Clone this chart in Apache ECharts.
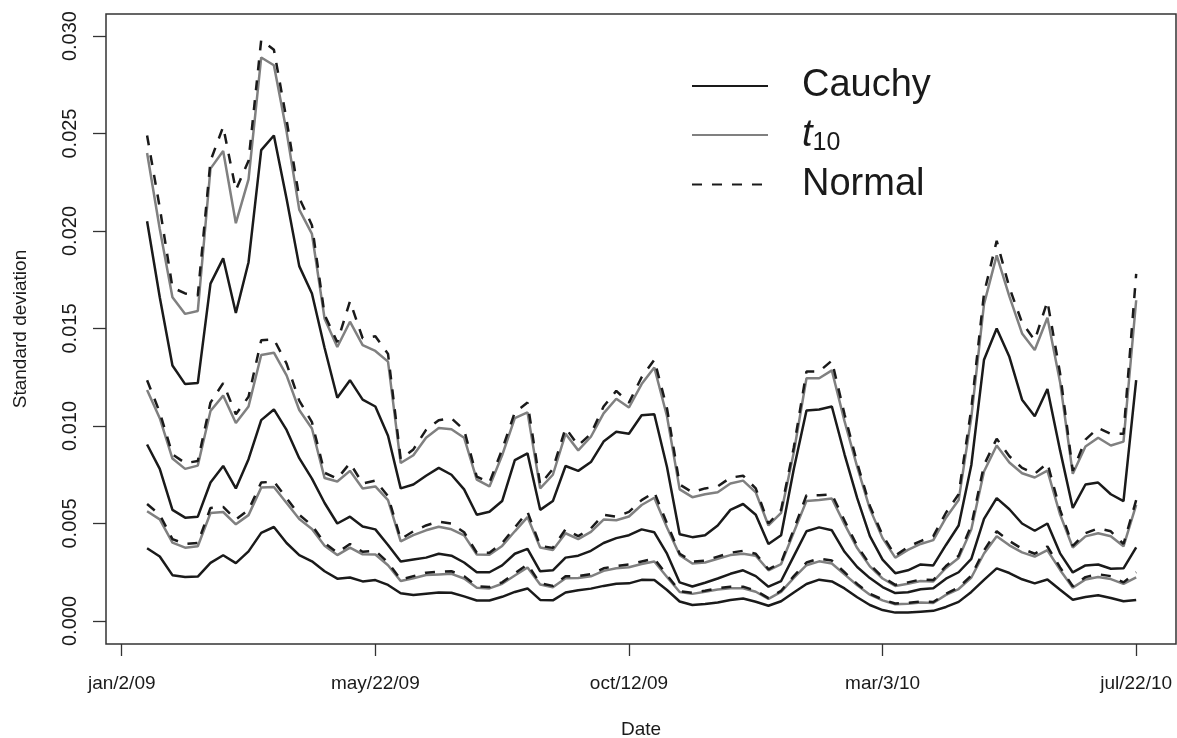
<!DOCTYPE html>
<html>
<head>
<meta charset="utf-8">
<title>Standard deviation</title>
<script src="https://cdn.jsdelivr.net/npm/echarts@6.0.0/dist/echarts.min.js"></script>
<style>
  html, body { margin: 0; padding: 0; background: #fff; }
  #chart { width: 1177px; height: 738px; }
</style>
</head>
<body>
<div id="chart"></div>
<script>
// date axis: ticks every 100 index units
const tickIndex = [0, 100, 200, 300, 400]
const tickLabels = ['jan/2/09', 'may/22/09', 'oct/12/09', 'mar/3/10', 'jul/22/10']
const yTicks = [0, 0.005, 0.01, 0.015, 0.02, 0.025, 0.03]

// curves are sampled at index 10, 15, 20, ... 400
const firstIndex = 10
const step = 5

// values, in units of 0.001
const cauchyHigh = [
  20.5, 16.6, 13.1, 12.15, 12.2, 17.3, 18.6, 15.8, 18.4, 24.15,
  24.9, 21.65, 18.2, 16.8, 14.0, 11.45, 12.35, 11.35, 11.0, 9.5,
  6.8, 7.0, 7.45, 7.85, 7.5, 6.75, 5.45, 5.6, 6.15, 8.25,
  8.6, 5.7, 6.15, 7.95, 7.7, 8.15, 9.2, 9.7, 9.6, 10.55,
  10.6, 7.9, 4.45, 4.3, 4.4, 4.9, 5.7, 6.0, 5.45, 3.95,
  4.4, 7.8, 10.8, 10.85, 11.0, 8.55, 6.3, 4.35, 3.15, 2.45,
  2.6, 2.9, 2.85, 3.9, 4.9, 8.0, 13.4, 15.0, 13.55, 11.35,
  10.5, 11.9, 8.75, 5.8, 7.0, 7.1, 6.5, 6.15, 12.35
]
const t10High = [
  24.0, 20.1, 16.6, 15.75, 15.9, 23.2, 24.1, 20.4, 22.65, 28.9,
  28.5, 25.1, 21.1, 19.85, 15.5, 14.05, 15.35, 14.15, 13.85, 13.3,
  8.1, 8.5, 9.4, 9.9, 9.83, 9.4, 7.25, 6.9, 8.5, 10.4,
  10.7, 6.8, 7.5, 9.6, 8.75, 9.45, 10.65, 11.4, 10.95, 12.15,
  13.0, 10.5, 6.75, 6.35, 6.5, 6.6, 7.05, 7.2, 6.6, 4.9,
  5.55, 8.65, 12.45, 12.45, 12.85, 10.25, 7.9, 5.75, 4.25, 3.25,
  3.65, 3.95, 4.15, 5.3, 6.2, 10.45, 16.25, 18.75, 16.65, 14.75,
  13.9, 15.55, 12.25, 7.55, 8.95, 9.4, 9.0, 9.2, 16.45
]
const normalHigh = [
  24.9, 21.2, 17.1, 16.8, 16.7, 23.6, 25.35, 22.1, 23.6, 29.8,
  29.3, 25.7, 21.7, 20.3, 15.7, 14.3, 16.4, 14.5, 14.6, 13.7,
  8.3, 8.8, 9.8, 10.3, 10.4, 9.8, 7.4, 7.1, 8.8, 10.7,
  11.2, 7.0, 7.8, 9.9, 9.0, 9.6, 11.0, 11.8, 11.2, 12.5,
  13.4, 10.9, 7.0, 6.6, 6.8, 6.9, 7.35, 7.45, 6.8, 5.0,
  5.7, 8.9, 12.8, 12.8, 13.35, 10.6, 8.1, 5.9, 4.4, 3.35,
  3.8, 4.1, 4.35, 5.55, 6.5, 10.9, 16.8, 19.5, 17.1, 15.3,
  14.4, 16.4, 12.7, 7.7, 9.3, 9.9, 9.6, 9.6, 17.8
]
const cauchyMid = [
  9.05, 7.8, 5.7, 5.3, 5.35, 7.1, 7.95, 6.8, 8.3, 10.3,
  10.85, 9.8, 8.35, 7.3, 6.05, 5.0, 5.35, 4.85, 4.7, 3.9,
  3.05, 3.15, 3.25, 3.45, 3.35, 3.0, 2.5, 2.5, 2.85, 3.45,
  3.7, 2.55, 2.6, 3.25, 3.35, 3.6, 4.0, 4.25, 4.4, 4.7,
  4.55, 3.45, 1.98, 1.77, 1.96, 2.18, 2.42, 2.6, 2.3, 1.76,
  2.05, 3.33, 4.6, 4.8, 4.65, 3.55, 2.77, 2.2, 1.74, 1.43,
  1.47, 1.63, 1.68, 2.17, 2.5, 3.18, 5.24, 6.3, 5.73, 5.0,
  4.63, 5.0, 3.47, 2.49, 2.85, 2.9, 2.68, 2.7, 3.78
]
const t10Mid = [
  11.85, 10.4, 8.33, 7.8, 7.97, 10.77, 11.56, 10.15, 11.0, 13.64,
  13.76, 12.6, 10.82, 9.87, 7.33, 7.15, 7.7, 6.8, 6.9, 6.2,
  4.08, 4.4, 4.65, 4.83, 4.7, 4.39, 3.41, 3.4, 3.85, 4.6,
  5.33, 3.77, 3.64, 4.5, 4.2, 4.57, 5.2, 5.17, 5.36, 5.95,
  6.32, 4.8, 3.38, 2.95, 3.0, 3.19, 3.38, 3.45, 3.35, 2.6,
  2.92, 4.55, 6.16, 6.2, 6.28, 4.97, 3.74, 2.8, 2.18, 1.8,
  1.91, 2.05, 2.03, 2.72, 3.23, 4.7, 7.67, 9.0, 8.13, 7.58,
  7.36, 7.71, 5.46, 3.77, 4.34, 4.5, 4.35, 3.83, 5.95
]
const normalMid = [
  12.35, 10.7, 8.55, 8.1, 8.2, 11.2, 12.2, 10.6, 11.5, 14.4,
  14.45, 13.2, 11.3, 10.2, 7.6, 7.3, 8.1, 7.05, 7.2, 6.4,
  4.2, 4.6, 4.9, 5.1, 5.0, 4.55, 3.5, 3.5, 4.0, 4.8,
  5.6, 3.85, 3.75, 4.7, 4.35, 4.75, 5.45, 5.35, 5.6, 6.2,
  6.6, 5.0, 3.45, 3.05, 3.1, 3.3, 3.5, 3.6, 3.45, 2.65,
  3.0, 4.7, 6.45, 6.45, 6.5, 5.15, 3.85, 2.9, 2.25, 1.85,
  1.98, 2.13, 2.1, 2.82, 3.35, 4.9, 8.0, 9.35, 8.45, 7.85,
  7.55, 8.1, 5.7, 3.85, 4.5, 4.75, 4.6, 3.95, 6.2
]
const cauchyLow = [
  3.73, 3.31, 2.35, 2.26, 2.28, 2.98, 3.37, 2.97, 3.57, 4.52,
  4.82, 4.0, 3.38, 3.06, 2.55, 2.17, 2.23, 2.03, 2.1, 1.85,
  1.42, 1.33, 1.4, 1.46, 1.45, 1.26, 1.05, 1.05, 1.24, 1.49,
  1.67, 1.08, 1.06, 1.46, 1.58, 1.66, 1.8, 1.91, 1.93, 2.11,
  2.1, 1.59, 1.0, 0.82, 0.87, 0.95, 1.08, 1.15, 0.99, 0.78,
  1.01, 1.46, 1.9, 2.12, 2.03, 1.67, 1.22, 0.82, 0.56, 0.43,
  0.44, 0.48, 0.52, 0.72, 0.98, 1.49, 2.11, 2.7, 2.46, 2.14,
  1.93, 2.13, 1.6, 1.09, 1.23, 1.32, 1.18, 1.01, 1.08
]
const t10Low = [
  5.63, 5.21, 4.02, 3.76, 3.83, 5.54, 5.59, 4.96, 5.43, 6.84,
  6.87, 6.05, 5.23, 4.72, 3.86, 3.38, 3.76, 3.42, 3.41, 2.86,
  2.05, 2.19, 2.36, 2.39, 2.42, 2.18, 1.7, 1.67, 1.91, 2.33,
  2.74, 1.87, 1.73, 2.19, 2.2, 2.29, 2.57, 2.7, 2.76, 2.92,
  3.05, 2.26, 1.49, 1.39, 1.5, 1.62, 1.68, 1.68, 1.5, 1.13,
  1.49, 2.21, 2.86, 3.06, 2.95, 2.39, 1.83, 1.35, 1.06, 0.86,
  0.89, 0.95, 0.92, 1.34, 1.64, 2.23, 3.46, 4.35, 3.88, 3.52,
  3.3, 3.63, 2.62, 1.71, 2.13, 2.26, 2.15, 1.9, 2.24
]
const normalLow = [
  6.0, 5.45, 4.2, 3.95, 4.0, 5.8, 5.85, 5.2, 5.7, 7.1,
  7.15, 6.3, 5.45, 4.9, 4.0, 3.5, 3.95, 3.55, 3.6, 3.0,
  2.12, 2.3, 2.48, 2.52, 2.55, 2.3, 1.78, 1.74, 1.98, 2.45,
  2.9, 1.93, 1.8, 2.3, 2.3, 2.4, 2.7, 2.82, 2.9, 3.05,
  3.2, 2.35, 1.53, 1.44, 1.55, 1.68, 1.76, 1.76, 1.56, 1.17,
  1.55, 2.3, 3.0, 3.2, 3.1, 2.5, 1.9, 1.4, 1.1, 0.9,
  0.93, 1.0, 0.97, 1.4, 1.72, 2.33, 3.62, 4.6, 4.1, 3.7,
  3.45, 3.82, 2.75, 1.78, 2.25, 2.4, 2.3, 1.98, 2.5
]

const font = '"Liberation Sans", Arial, Helvetica, sans-serif'
const ink = '#1a1a1a'

const styles = {
  Cauchy: { color: ink, width: 2.5, type: 'solid' },
  t10: { color: '#808080', width: 2.5, type: 'solid' },
  Normal: { color: ink, width: 2.5, type: [10, 10] }
}

const toPoints = (values) => values.map((v, i) => [firstIndex + step * i, v / 1000])

const makeSeries = (name, values) => ({
  name: name,
  type: 'line',
  data: toPoints(values),
  symbol: 'none',
  showSymbol: false,
  silent: true,
  lineStyle: styles[name],
  itemStyle: { color: styles[name].color }
})

const createChart = () => {
  var chartDom = document.getElementById('chart')
  var myChart = echarts.init(chartDom)
  var option

  option = {
    animation: false,
    backgroundColor: '#fff',
    textStyle: { fontFamily: font },
    grid: {
      left: 106,
      right: 1,
      top: 14,
      bottom: 94,
      // keep the plot box where it is, labels may sit outside it
      outerBoundsMode: 'none',
      containLabel: false,
      show: true,
      borderColor: '#333',
      borderWidth: 1.5
    },
    legend: {
      data: ['Cauchy', 't10', 'Normal'],
      orient: 'vertical',
      left: 686,
      top: 61,
      itemWidth: 76,
      itemHeight: 14,
      itemGap: 9,
      selectedMode: false,
      // line only, no marker in the key
      itemStyle: { opacity: 0 },
      formatter: (name) => (name === 't10' ? '{it|t}{sub|10}' : name),
      textStyle: {
        fontFamily: font,
        fontSize: 38,
        lineHeight: 40,
        color: ink,
        padding: [0, 0, 0, 29],
        rich: {
          it: { fontFamily: font, fontSize: 38, fontStyle: 'italic', color: ink },
          sub: { fontFamily: font, fontSize: 25, color: ink, padding: [16, 0, 0, 0] }
        }
      }
    },
    xAxis: {
      type: 'value',
      min: -6.2,
      max: 415.7,
      name: 'Date',
      nameLocation: 'middle',
      nameGap: 76,
      nameTextStyle: { fontFamily: font, fontSize: 19, color: ink },
      splitLine: { show: false },
      axisLine: { show: false, onZero: false },
      axisTick: {
        inside: false,
        customValues: tickIndex,
        length: 12,
        lineStyle: { color: '#333', width: 1.3 }
      },
      axisLabel: {
        customValues: tickIndex,
        margin: 30,
        fontFamily: font,
        fontSize: 19,
        color: ink,
        formatter: (v) => tickLabels[tickIndex.indexOf(v)]
      }
    },
    yAxis: {
      type: 'value',
      min: -0.00118,
      max: 0.03113,
      name: 'Standard deviation',
      nameLocation: 'middle',
      nameGap: 76,
      nameTextStyle: { fontFamily: font, fontSize: 19, color: ink },
      splitLine: { show: false },
      axisLine: { show: false, onZero: false },
      axisTick: {
        inside: false,
        customValues: yTicks,
        length: 13,
        lineStyle: { color: '#333', width: 1.3 }
      },
      axisLabel: {
        customValues: yTicks,
        rotate: 90,
        margin: 26,
        fontFamily: font,
        fontSize: 20,
        color: ink,
        formatter: (v) => v.toFixed(3)
      }
    },
    series: [
      makeSeries('Cauchy', cauchyHigh),
      makeSeries('Cauchy', cauchyMid),
      makeSeries('Cauchy', cauchyLow),
      makeSeries('t10', t10High),
      makeSeries('t10', t10Mid),
      makeSeries('t10', t10Low),
      makeSeries('Normal', normalHigh),
      makeSeries('Normal', normalMid),
      makeSeries('Normal', normalLow)
    ]
  }

  option && myChart.setOption(option)
}

createChart()
</script>
</body>
</html>
